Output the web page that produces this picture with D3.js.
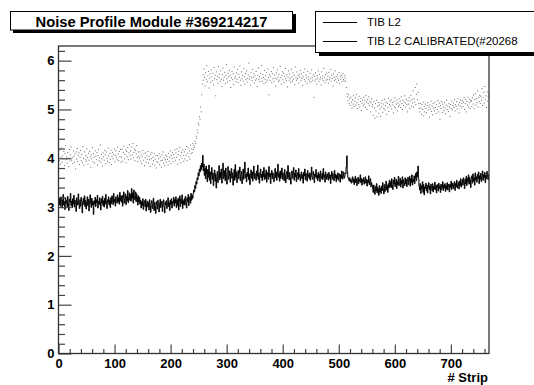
<!DOCTYPE html>
<html><head><meta charset="utf-8">
<script src="https://cdn.jsdelivr.net/npm/d3@7"></script>
<style>body{margin:0;background:#fff}svg{display:block}</style>
</head><body><svg id="c" width="534" height="385"></svg>
<script>
// TIB L2 noise, strips 0-255
const tibL2_a=[3.12,3.05,3.18,3.02,3.21,3.09,2.98,3.15,3.26,3.04,3.11,2.95,3.19,3.08,3.13,3.01,
3.22,3.07,2.93,3.16,3.10,3.28,3.03,3.12,2.99,3.17,3.06,3.24,3.00,3.14,3.09,2.91,
3.19,3.11,3.04,3.27,3.08,2.97,3.15,3.02,3.20,3.13,2.88,3.10,3.18,3.05,3.23,3.01,
3.14,2.96,3.09,3.21,3.03,3.16,2.92,3.12,3.25,3.07,2.99,3.18,3.04,3.11,2.85,3.13,
3.06,3.20,3.01,3.15,3.09,3.24,2.98,3.12,3.05,3.19,3.10,2.94,3.17,3.08,3.22,3.03,
3.13,3.00,3.18,3.06,3.26,3.11,2.97,3.15,3.09,3.21,3.04,3.14,2.99,3.19,3.07,3.23,
3.12,3.05,3.28,3.10,3.16,3.02,3.21,3.14,3.08,3.25,3.11,3.19,3.06,3.30,3.13,3.22,
3.10,3.24,3.02,3.19,3.31,3.08,3.17,3.27,3.05,3.22,3.13,3.34,3.09,3.20,3.29,3.14,
3.26,3.12,3.38,3.18,3.29,3.08,3.35,3.21,3.15,3.31,3.11,3.27,3.19,3.04,3.23,3.10,
3.20,3.06,3.14,2.98,3.11,3.03,3.17,2.95,3.09,3.13,3.01,3.16,2.92,3.07,3.12,3.00,
3.10,2.94,3.15,3.04,2.89,3.08,3.13,2.97,3.05,3.18,2.93,3.09,3.02,2.87,3.11,3.06,
2.96,3.14,3.03,2.90,3.08,3.16,2.99,3.05,3.12,2.91,3.07,3.15,3.00,2.88,3.10,3.04,
3.13,2.97,3.06,3.19,3.01,3.09,2.93,3.14,3.05,3.17,2.98,3.11,3.08,3.20,3.02,3.15,
3.08,3.21,2.99,3.14,3.03,3.18,2.94,3.12,3.23,3.01,3.16,3.07,3.25,2.97,3.13,3.05,
3.17,3.04,3.22,3.09,2.98,3.19,3.11,3.26,3.03,3.15,3.21,3.08,3.28,3.14,3.24,3.18,
3.28,3.35,3.31,3.44,3.38,3.52,3.47,3.60,3.56,3.70,3.64,3.78,3.72,3.85,3.76,3.90];
// TIB L2 noise, strips 256-511
const tibL2_b=[3.82,4.06,3.74,3.88,3.65,3.79,3.58,3.84,3.69,3.52,3.77,3.61,3.86,3.55,3.72,3.48,
3.66,3.81,3.57,3.70,3.44,3.63,3.76,3.53,3.68,3.39,3.59,3.73,3.50,3.64,3.85,3.56,
3.71,3.60,3.78,3.49,3.67,3.90,3.58,3.75,3.62,3.54,3.80,3.66,3.47,3.69,3.83,3.57,
3.64,3.74,3.51,3.68,3.79,3.59,3.70,3.45,3.63,3.77,3.55,3.87,3.61,3.72,3.50,3.66,
3.75,3.58,3.69,3.82,3.54,3.65,3.73,3.48,3.62,3.78,3.57,3.70,3.92,3.60,3.67,3.52,
3.71,3.63,3.80,3.56,3.68,3.46,3.64,3.76,3.59,3.72,3.53,3.66,3.84,3.58,3.69,3.61,
3.55,3.74,3.63,3.86,3.57,3.70,3.49,3.65,3.78,3.60,3.67,3.54,3.73,3.62,3.81,3.56,
3.68,3.59,3.76,3.51,3.64,3.71,3.57,3.83,3.62,3.69,3.48,3.66,3.75,3.58,3.70,3.63,
3.52,3.67,3.79,3.60,3.72,3.55,3.64,3.88,3.61,3.69,3.53,3.74,3.59,3.66,3.80,3.57,
3.70,3.62,3.54,3.77,3.65,3.50,3.68,3.73,3.58,3.85,3.63,3.56,3.71,3.60,3.47,3.66,
3.74,3.59,3.67,3.81,3.55,3.69,3.62,3.76,3.52,3.65,3.70,3.57,3.79,3.61,3.68,3.54,
3.63,3.72,3.58,3.66,3.49,3.71,3.64,3.78,3.56,3.69,3.60,3.53,3.75,3.62,3.67,3.58,
3.70,3.55,3.64,3.82,3.61,3.57,3.73,3.66,3.50,3.68,3.62,3.77,3.59,3.65,3.54,3.71,
3.60,3.67,3.52,3.74,3.63,3.58,3.69,3.56,3.79,3.61,3.66,3.51,3.72,3.64,3.57,3.68,
3.62,3.55,3.71,3.59,3.66,3.48,3.64,3.73,3.57,3.69,3.61,3.54,3.75,3.60,3.67,3.52,
3.65,3.58,3.70,3.55,3.63,3.68,3.51,3.66,3.60,3.74,3.57,3.64,3.72,3.59,3.62,3.70];
// TIB L2 noise, strips 512-767
const tibL2_c=[3.68,3.82,4.05,3.72,3.61,3.58,3.54,3.60,3.52,3.57,3.49,3.55,3.62,3.51,3.58,3.46,
3.56,3.63,3.50,3.58,3.44,3.55,3.61,3.48,3.57,3.53,3.66,3.50,3.59,3.45,3.56,3.52,
3.60,3.47,3.54,3.62,3.49,3.57,3.43,3.55,3.51,3.64,3.46,3.53,3.58,3.42,3.50,3.45,
3.38,3.30,3.45,3.35,3.26,3.42,3.33,3.48,3.29,3.40,3.36,3.24,3.44,3.31,3.39,3.28,
3.43,3.34,3.50,3.37,3.27,3.46,3.32,3.41,3.53,3.35,3.44,3.30,3.48,3.39,3.55,3.42,
3.52,3.40,3.58,3.45,3.36,3.55,3.47,3.61,3.42,3.50,3.57,3.38,3.53,3.46,3.63,3.44,
3.49,3.59,3.41,3.54,3.47,3.62,3.39,3.56,3.50,3.44,3.60,3.48,3.57,3.42,3.53,3.61,
3.46,3.55,3.63,3.43,3.58,3.50,3.66,3.45,3.57,3.52,3.64,3.48,3.60,3.69,3.54,3.72,
3.62,3.84,3.58,3.42,3.35,3.48,3.28,3.44,3.37,3.52,3.30,3.46,3.25,3.41,3.38,3.49,
3.33,3.45,3.29,3.40,3.50,3.36,3.43,3.27,3.47,3.39,3.34,3.48,3.31,3.42,3.37,3.51,
3.35,3.44,3.29,3.46,3.40,3.33,3.49,3.38,3.43,3.30,3.47,3.36,3.41,3.52,3.34,3.45,
3.39,3.48,3.32,3.44,3.37,3.50,3.35,3.42,3.47,3.31,3.46,3.40,3.53,3.36,3.43,3.49,
3.38,3.45,3.52,3.34,3.48,3.42,3.55,3.39,3.46,3.51,3.37,3.53,3.44,3.58,3.41,3.49,
3.56,3.45,3.60,3.50,3.38,3.57,3.48,3.63,3.44,3.59,3.52,3.66,3.47,3.61,3.55,3.40,
3.58,3.64,3.49,3.68,3.53,3.60,3.45,3.70,3.56,3.62,3.51,3.67,3.58,3.72,3.48,3.64,
3.57,3.69,3.52,3.63,3.74,3.55,3.66,3.60,3.71,3.50,3.65,3.58,3.73,3.62,3.56,3.67];
// TIB L2 CALIBRATED, strips 0-255
const calib_a=[4.08,3.95,4.17,3.88,4.02,4.21,3.92,4.05,3.99,4.14,3.85,4.10,4.26,3.97,4.03,3.90,
4.12,4.00,3.83,4.18,3.94,4.07,4.23,3.96,4.01,3.89,4.15,4.04,3.92,4.09,3.78,4.13,
3.98,4.20,3.93,4.06,4.11,3.87,4.02,4.16,3.95,4.08,3.91,4.24,4.00,3.86,4.13,3.97,
4.05,3.94,4.19,4.01,3.88,4.10,3.96,4.14,4.03,3.82,4.07,3.99,4.22,3.93,4.09,4.02,
3.90,4.15,4.04,3.97,4.12,3.86,4.06,4.18,3.95,4.01,4.27,3.92,4.08,3.99,3.84,4.11,
4.03,3.96,4.16,4.07,3.89,4.13,4.00,3.94,4.21,4.05,3.91,4.10,3.98,4.17,3.87,4.04,
4.12,3.99,4.08,4.19,3.93,4.06,4.15,4.02,3.97,4.23,4.09,3.95,4.14,4.03,4.18,3.92,
4.02,4.19,3.94,4.12,4.25,3.99,4.08,4.17,3.91,4.14,4.03,4.22,3.97,4.11,4.28,4.05,
4.15,3.98,4.23,4.07,4.30,4.01,4.12,4.19,3.95,4.16,4.09,4.26,4.02,3.93,4.13,4.04,
4.00,4.13,3.94,4.07,3.89,4.03,4.16,3.96,4.09,3.85,4.01,4.11,3.92,4.05,3.98,4.14,
3.90,4.04,3.97,3.83,4.08,3.99,4.12,3.88,4.02,3.95,4.10,3.86,3.98,4.06,3.80,3.93,
4.05,3.91,3.99,4.09,3.87,4.03,3.95,3.82,4.07,3.96,4.13,3.90,4.01,3.85,3.97,4.06,
3.92,4.04,3.98,3.86,4.10,3.94,4.02,4.15,3.89,4.06,3.99,4.12,3.93,4.08,4.01,4.17,
3.96,4.11,4.02,4.19,3.88,4.08,4.14,3.97,4.22,4.05,3.91,4.12,4.00,4.17,4.06,3.94,
4.13,3.99,4.18,4.06,4.24,3.95,4.10,4.21,4.03,4.15,3.98,4.27,4.09,4.19,4.12,4.30,
4.18,4.26,4.22,4.35,4.30,4.45,4.41,4.58,4.52,4.72,4.68,4.85,4.80,5.05,4.95,5.30];
// TIB L2 CALIBRATED, strips 256-511
const calib_b=[5.52,5.71,5.60,5.83,5.66,5.48,5.75,5.62,5.90,5.57,5.69,5.78,5.44,5.64,5.73,5.55,
5.81,5.67,5.59,5.74,5.50,5.86,5.63,5.70,5.28,5.77,5.61,5.68,5.54,5.88,5.65,5.72,
5.58,5.79,5.62,5.47,5.71,5.85,5.60,5.66,5.76,5.53,5.69,5.92,5.63,5.56,5.74,5.67,
5.80,5.59,5.70,5.45,5.65,5.78,5.61,5.73,5.51,5.87,5.64,5.68,5.57,5.75,5.62,5.82,
5.55,5.72,5.66,5.89,5.60,5.49,5.77,5.63,5.70,5.58,5.84,5.67,5.52,5.74,5.61,5.79,
5.64,5.56,5.71,5.95,5.62,5.68,5.50,5.76,5.65,5.59,5.82,5.66,5.73,5.54,5.69,5.60,
5.78,5.63,5.47,5.70,5.85,5.61,5.67,5.57,5.74,5.64,5.90,5.58,5.72,5.66,5.53,5.80,
5.62,5.69,5.56,5.76,5.60,5.83,5.65,5.30,5.71,5.59,5.67,5.78,5.55,5.73,5.63,5.86,
5.58,5.70,5.64,5.48,5.75,5.62,5.81,5.66,5.57,5.72,5.60,5.88,5.65,5.52,5.69,5.77,
5.61,5.74,5.55,5.68,5.84,5.63,5.59,5.71,5.46,5.66,5.79,5.60,5.73,5.64,5.56,5.82,
5.67,5.58,5.75,5.62,5.70,5.51,5.87,5.65,5.60,5.77,5.63,5.69,5.54,5.72,5.66,5.80,
5.59,5.73,5.64,5.49,5.68,5.76,5.61,5.83,5.57,5.70,5.65,5.53,5.78,5.62,5.67,5.58,
5.74,5.63,5.56,5.81,5.66,5.60,5.71,5.25,5.68,5.58,5.75,5.62,5.52,5.69,5.64,5.79,
5.57,5.72,5.61,5.66,5.50,5.77,5.63,5.69,5.59,5.84,5.65,5.55,5.71,5.60,5.74,5.62,
5.68,5.54,5.76,5.61,5.65,5.82,5.58,5.70,5.63,5.48,5.73,5.66,5.59,5.79,5.62,5.67,
5.56,5.71,5.64,5.60,5.75,5.53,5.68,5.62,5.70,5.57,5.66,5.73,5.61,5.58,5.69,5.64];
// TIB L2 CALIBRATED, strips 512-767
const calib_c=[5.58,5.45,5.32,5.26,5.18,5.30,5.12,5.22,5.08,5.25,5.15,5.03,5.20,5.11,5.28,5.06,
5.17,5.24,5.09,5.31,5.14,5.02,5.21,5.10,5.27,5.05,5.16,5.23,4.98,5.13,5.19,5.07,
5.25,5.11,5.18,5.04,5.29,5.15,5.00,5.20,5.12,5.26,5.08,5.17,4.95,5.14,5.22,5.06,
5.10,4.88,5.16,5.03,4.82,5.12,4.97,5.19,4.85,5.07,5.14,4.92,5.09,5.01,4.86,5.13,
5.05,5.18,4.94,5.11,5.02,5.21,4.99,5.08,5.15,4.90,5.12,5.04,5.23,4.96,5.10,5.17,
5.07,5.20,5.01,5.14,5.09,4.93,5.16,5.05,5.24,5.03,5.11,5.19,4.97,5.13,5.06,5.22,
5.09,5.17,5.04,5.26,5.12,5.00,5.19,5.08,5.15,5.28,5.05,5.13,5.21,5.10,4.95,5.18,
5.11,5.24,5.02,5.17,5.29,5.07,5.20,5.13,5.38,5.05,5.22,5.15,5.45,5.10,5.31,5.52,
5.20,5.35,5.12,5.02,4.95,5.12,5.03,4.90,5.10,5.00,5.15,4.87,5.06,4.95,5.11,5.02,
4.93,5.08,5.14,4.99,5.05,4.84,5.09,5.01,5.17,4.96,5.07,4.89,5.12,5.03,4.97,5.15,
5.04,4.92,5.10,5.00,5.18,4.95,5.06,5.13,4.80,5.08,5.02,5.16,4.94,5.11,5.05,4.98,
5.14,5.03,4.91,5.09,5.19,5.00,5.07,4.96,5.12,5.05,4.86,5.10,5.02,5.17,4.99,5.08,
5.13,5.04,5.20,4.97,5.10,5.06,5.16,5.01,5.22,5.09,4.93,5.14,5.07,5.19,5.03,5.12,
5.18,5.06,5.15,5.24,5.00,5.12,5.20,4.95,5.16,5.09,5.25,5.05,5.14,5.21,5.02,5.17,
5.18,5.06,5.24,5.11,5.30,5.02,5.20,5.33,5.09,5.22,5.14,5.38,5.05,5.25,5.16,5.29,
5.12,5.27,5.19,5.43,5.08,5.24,5.35,5.13,5.47,5.20,5.28,5.04,5.36,5.17,5.26,5.31];

const xTicks=[0,100,200,300,400,500,600,700];
const yTicks=[0,1,2,3,4,5,6];
const titleText="Noise Profile Module #369214217";
const legendLabels=["TIB L2","TIB L2 CALIBRATED(#20268"];
const xTitle="# Strip";
const nStrips=768;
const yMax=6.3;

const tibL2=tibL2_a.concat(tibL2_b,tibL2_c);
const calib=calib_a.concat(calib_b,calib_c);

const FONT="'Liberation Sans', Arial, Helvetica, sans-serif";
const svg=d3.select("#c");
const L=58.5,R=489,T=46,B=353.5;
const x=d3.scaleLinear().domain([0,nStrips]).range([L,R]);
const y=d3.scaleLinear().domain([0,yMax]).range([B,T]);

svg.append("rect").attr("width",534).attr("height",385).attr("fill","#fff");

// calibrated markers (1px dots)
svg.append("g").selectAll("rect").data(calib).join("rect")
  .attr("x",(d,i)=>x(i+0.5)-0.5)
  .attr("y",d=>y(d)-0.5)
  .attr("width",1).attr("height",1).attr("fill","#000").attr("fill-opacity",0.6);

// TIB L2 histogram line
const line=d3.line().x((d,i)=>x(i)).y(d=>y(d)).curve(d3.curveStepAfter);
svg.append("path").datum(tibL2.concat([tibL2[tibL2.length-1]]))
  .attr("d",line).attr("fill","none").attr("stroke","#000").attr("stroke-width",1);

// axes
const yMinor=d3.range(0,yMax+0.001,0.2).map(v=>+v.toFixed(1)).filter(v=>!yTicks.includes(v));
const xMinor=d3.range(0,nStrips+1,20).filter(v=>!xTicks.includes(v));

const gy=svg.append("g").attr("transform",`translate(${L},0)`);
gy.call(d3.axisLeft(y).tickValues(yMinor).tickSize(-6.5).tickFormat(""));
gy.select(".domain").remove();
const gy2=svg.append("g").attr("transform",`translate(${L},0)`);
gy2.call(d3.axisLeft(y).tickValues(yTicks).tickSize(-13).tickPadding(4).tickFormat(d3.format("d")));
gy2.select(".domain").remove();

const gx=svg.append("g").attr("transform",`translate(0,${B})`);
gx.call(d3.axisBottom(x).tickValues(xMinor).tickSize(-4.5).tickFormat(""));
gx.select(".domain").remove();
const gx2=svg.append("g").attr("transform",`translate(0,${B})`);
gx2.call(d3.axisBottom(x).tickValues(xTicks).tickSize(-9).tickPadding(5).tickFormat(d3.format("d")));
gx2.select(".domain").remove();

svg.selectAll(".tick line").attr("stroke","#444").attr("stroke-width",1.2);
svg.selectAll(".tick text").attr("font-family",FONT).attr("font-weight","bold")
  .attr("font-size",13).attr("fill","#000");

// frame
svg.append("rect").attr("x",L).attr("y",T).attr("width",R-L).attr("height",B-T)
  .attr("fill","none").attr("stroke","#333").attr("stroke-width",1.3);

// x title
svg.append("text").attr("x",R-1).attr("y",382).attr("text-anchor","end")
  .attr("font-family",FONT).attr("font-weight","bold").attr("font-size",13).text(xTitle);

// title box
svg.append("rect").attr("x",13).attr("y",14).attr("width",283).attr("height",19).attr("fill","#000");
svg.append("rect").attr("x",10.5).attr("y",11.5).attr("width",282).attr("height",18.5)
  .attr("fill","#fff").attr("stroke","#000").attr("stroke-width",1);
svg.append("text").attr("x",151.5).attr("y",26.5).attr("text-anchor","middle")
  .attr("font-family",FONT).attr("font-weight","bold").attr("font-size",14.5)
  .attr("textLength",232).attr("lengthAdjust","spacingAndGlyphs").text(titleText);

// legend box
svg.append("rect").attr("x",319).attr("y",15).attr("width",230).attr("height",41).attr("fill","#000");
svg.append("rect").attr("x",315.5).attr("y",11.5).attr("width",230).attr("height",41)
  .attr("fill","#fff").attr("stroke","#000").attr("stroke-width",1);
const lg=svg.append("g");
legendLabels.forEach((t,i)=>{
  const yy=22+i*19;
  lg.append("line").attr("x1",323).attr("x2",357).attr("y1",yy+0.5).attr("y2",yy+0.5)
    .attr("stroke","#000").attr("stroke-width",1);
  lg.append("text").attr("x",367).attr("y",yy+4).attr("font-family",FONT)
    .attr("font-size",11.5).attr("fill","#000").text(t);
});
</script>
</body></html>
